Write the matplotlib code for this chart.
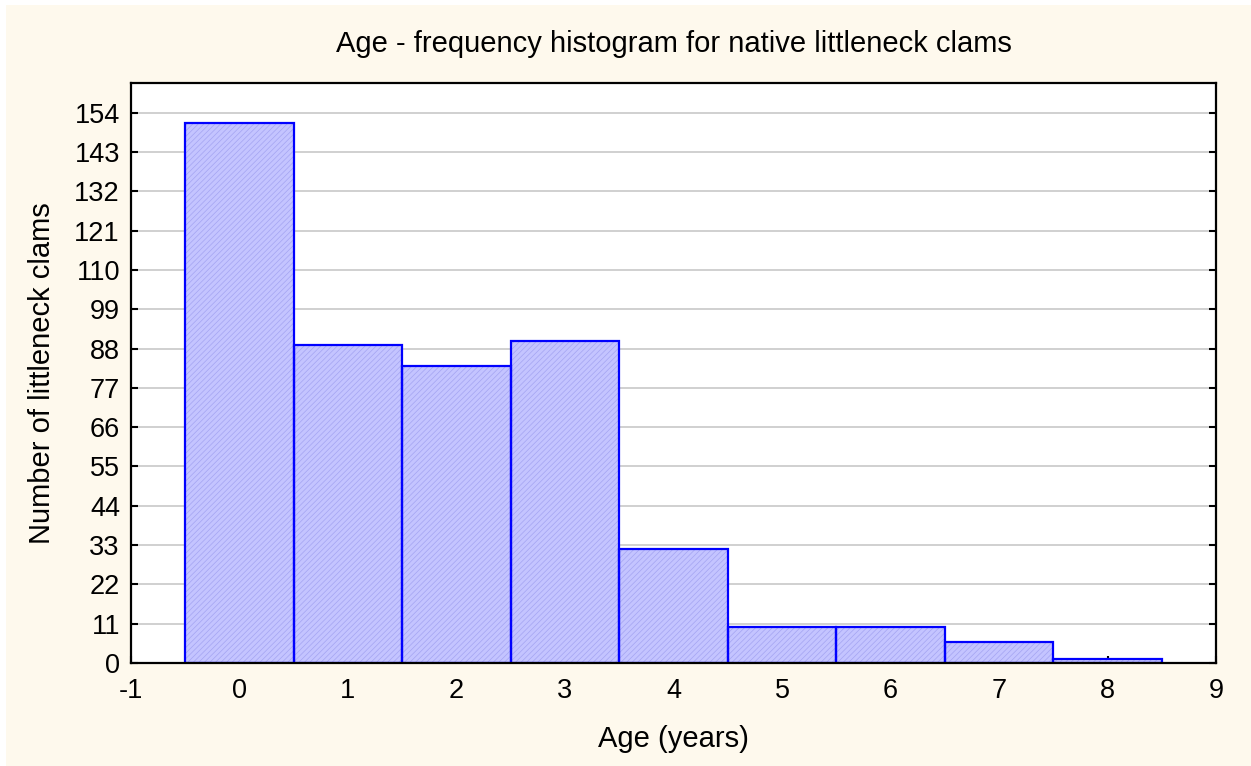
import matplotlib.pyplot as plt
import matplotlib.patches as mpatches
import numpy as np

# Data
ages = [0, 1, 2, 3, 4, 5, 6, 7, 8]
counts = [151, 89, 83, 90, 32, 10, 10, 6, 1]
yticks = [0, 11, 22, 33, 44, 55, 66, 77, 88, 99, 110, 121, 132, 143, 154]
xticks = [-1, 0, 1, 2, 3, 4, 5, 6, 7, 8, 9]

plt.rcParams['font.family'] = ['Liberation Sans', 'DejaVu Sans']
plt.rcParams['axes.unicode_minus'] = False
plt.rcParams['hatch.linewidth'] = 0.5

fig = plt.figure(figsize=(12.51, 7.66), dpi=100)
fig.patch.set_facecolor('white')
# beige panel (leaves a thin white strip on top/left like the original)
fig.patches.append(mpatches.Rectangle((6 / 1251, 0), 1 - 6 / 1251, 1 - 5 / 766,
                                      transform=fig.transFigure,
                                      facecolor='#fef9ed', edgecolor='none', zorder=-10))

ax = fig.add_axes([131 / 1251, 1 - 663 / 766, (1216 - 131) / 1251, (663 - 83) / 766])
ax.set_facecolor('white')

# hatched fill, then the blue outlines on top
ax.bar(ages, counts, width=1.0, color='#c4c4ff', edgecolor='#a4a4f2',
       hatch='//////', linewidth=0, zorder=2)
ax.bar(ages, counts, width=1.0, fill=False, edgecolor='#0000ff',
       linewidth=1.6, zorder=3)

ax.set_xlim(-1, 9)
ax.set_ylim(0, 162.3)
ax.set_xticks(xticks)
ax.set_yticks(yticks)
ax.grid(axis='y', color='#cdcdcd', linewidth=1.3, zorder=1)
ax.set_axisbelow(True)

ax.tick_params(axis='both', direction='in', length=5, width=1.5, labelsize=19.5,
               colors='black')
ax.tick_params(axis='y', right=True, pad=8)
ax.tick_params(axis='x', pad=11)
for s in ax.spines.values():
    s.set_linewidth(1.6)
    s.set_zorder(4)

ax.set_title("Age - frequency histogram for native littleneck clams",
             fontsize=21, pad=22)
ax.set_xlabel("Age (years)", fontsize=21, labelpad=15)
ax.set_ylabel("Number of littleneck clams", fontsize=21, labelpad=13)

fig.savefig('out.png', dpi=100, facecolor=fig.get_facecolor())
